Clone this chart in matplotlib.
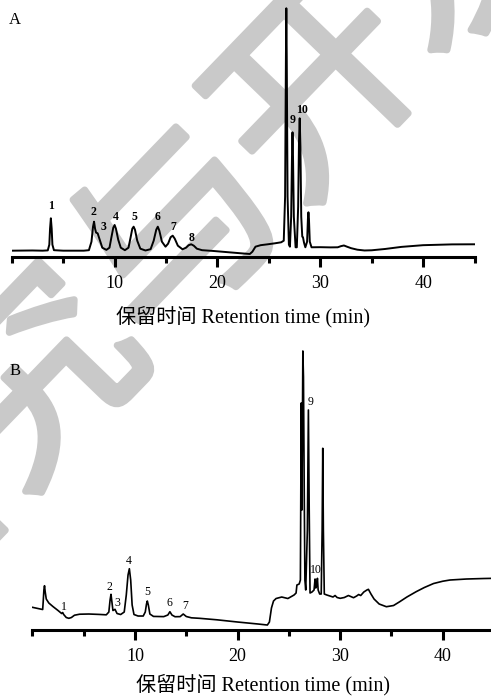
import matplotlib
matplotlib.use("Agg")
import matplotlib.pyplot as plt
import matplotlib.patheffects as pe
from matplotlib.ticker import MultipleLocator

# HPLC traces, retention time (min) vs detector signal (a.u.)
# A: mixed standard
t_std = [0, 2.0, 3.0, 3.5, 3.65, 3.72, 3.8, 3.88, 3.95, 4.1, 5.0, 7.0,
         7.5, 7.75, 7.9, 8.0, 8.1, 8.2, 8.35, 8.55, 8.8, 9.2, 9.5, 9.7, 9.87,
         10.0, 10.13, 10.35, 10.6, 11.0, 11.35, 11.55, 11.72, 11.85, 11.98,
         12.2, 12.5, 13.0, 13.5, 13.8, 14.05, 14.2, 14.35, 14.6, 14.95, 15.2,
         15.45, 15.65, 15.85, 16.15, 16.6, 16.95, 17.2, 17.45, 17.7, 18.0,
         18.5, 19.5, 21.0, 22.5, 23.15, 23.4, 23.7, 24.2, 24.9, 25.6, 26.2,
         26.45, 26.58, 26.66, 26.7, 26.74, 26.82, 26.95, 27.05, 27.17, 27.25,
         27.3, 27.35, 27.43, 27.6, 27.72, 27.85, 27.93, 28.0, 28.07, 28.15,
         28.25, 28.32, 28.42, 28.55, 28.72, 28.8, 28.85, 28.9, 28.98, 29.15,
         30.0, 31.0, 31.7, 32.0, 32.3, 32.6, 33.0, 33.6, 34.3, 35.0, 36.3,
         37.9, 40.0, 42.8, 45.0]
s_std = [6.0, 6.2, 6.0, 6.3, 12, 28, 38.4, 28, 12, 6.5, 6.0, 6.0,
         6.5, 15, 30, 35, 28, 24, 23.4, 17, 9, 6.8, 9, 20, 29,
         31.7, 28, 17, 9, 6.5, 9, 19, 28, 30, 27,
         16, 8, 6.2, 7.5, 16, 27, 30, 26, 15, 10, 13,
         19.5, 21, 18, 11, 7.4, 9, 11.5, 12.4, 11, 8,
         6.5, 5.8, 4.5, 3.2, 2.7, 5, 10, 11.5, 12.4, 13.4, 14.4,
         16, 60, 200, 248.4, 200, 60, 12, 10, 40, 100,
         124.4, 100, 40, 9.4, 9.4, 50, 115, 138.4, 110, 40,
         20, 19.4, 14, 9.4, 15, 38, 44.4, 38, 15, 9.4,
         9.5, 9.3, 9.4, 10.5, 11.2, 10, 8.5, 7, 6.2, 6.4, 7.7,
         9.8, 11.5, 12.3, 12.4]

# B: sample
t_smp = [0, 1.0, 1.05, 1.12, 1.18, 1.25, 1.35, 1.6, 2.0, 2.5, 2.85, 2.95,
         3.05, 3.3, 3.55, 3.8, 4.1, 4.6, 5.5, 6.5, 7.2, 7.45, 7.57, 7.66,
         7.75, 7.85, 8.05, 8.25, 8.6, 8.95, 9.15, 9.32, 9.45, 9.58, 9.72,
         9.9, 10.3, 10.8, 11.0, 11.12, 11.2, 11.3, 11.45, 11.8, 12.8, 13.2,
         13.4, 13.6, 13.9, 14.4, 14.7, 15.0, 15.5, 16.3, 18.0, 20.0, 22.0,
         22.9, 23.1, 23.3, 23.5, 23.75, 24.3, 24.9, 25.5, 25.7, 25.78, 26.0,
         26.12, 26.2, 26.27, 26.36, 26.42, 26.5, 26.56, 26.64, 26.8, 26.9,
         26.98, 27.06, 27.25, 27.45, 27.55, 27.62, 27.7, 27.78, 27.85, 28.0,
         28.15, 28.24, 28.3, 28.36, 28.45, 28.7, 29.0, 29.3, 29.5, 29.7,
         30.0, 30.4, 30.8, 31.3, 31.6, 31.8, 32.0, 32.3, 32.6, 32.75, 33.0,
         33.3, 33.8, 34.5, 35.2, 35.8, 36.5, 37.4, 38.2, 39.1, 40.0, 40.7,
         42.3, 44.0, 45.0]
s_smp = [22.7, 20.5, 28, 40, 44.3, 38, 31, 27, 23.5, 19.5, 16.5, 17.5,
         15.5, 12.5, 11.7, 12.5, 14.8, 15.8, 16, 15.6, 15.2, 18, 30, 35.7,
         28, 19.5, 20.7, 16.5, 15.5, 18, 35, 55, 61.3, 50, 25,
         15.5, 14, 14, 18, 26, 29, 25, 16, 13.6, 13.4, 15,
         18.3, 15, 13.3, 13.4, 16, 13.5, 12.2, 11.7, 10.2, 8.0, 6.0,
         5.0, 8, 22, 29, 31.5, 33, 31.5, 35, 37, 45, 46,
         50, 227, 120, 279, 253, 130, 50, 40, 100, 220,
         120, 37, 38, 40, 51, 42, 44, 51.7, 40, 36,
         36, 100, 181.7, 100, 36, 35, 34, 33, 34.5, 32.5,
         31.7, 32.5, 34.5, 32.3, 34, 35.5, 34.5, 38, 40, 40.7, 36,
         31, 26, 23.3, 24.5, 28.3, 33, 38.3, 42.5, 46.5, 48.8, 50,
         51, 51.5, 51.7]

# peak numbers and where they sit (time, signal)
lab_std = ["1", "2", "3", "4", "5", "6", "7", "8", "9", "10"]
lab_std_t = [3.79, 7.97, 8.95, 10.12, 11.93, 14.2, 15.67, 17.45, 27.31, 28.23]
lab_std_s = [51, 45, 30, 40, 40, 40, 30, 19, 137, 147]

lab_smp = ["1", "2", "3", "4", "5", "6", "7", "9", "10"]
lab_smp_t = [3.11, 7.5, 8.31, 9.38, 11.24, 13.31, 14.9, 27.12, 27.64]
lab_smp_s = [22.7, 42.7, 26.7, 69.3, 37.7, 26.7, 24.3, 227.7, 60]

serif = ["Liberation Serif", "Noto Sans CJK SC"]
xlab = "保留时间 Retention time (min)"

fig = plt.figure(figsize=(4.91, 6.96), dpi=100)

# faint diagonal watermark behind both panels
wm_col = "#c9c9c9"
fig.text(0.375, 0.655, "研究与开发", rotation=46, fontsize=145, color=wm_col,
         family="Noto Sans CJK SC", ha="center", va="center", zorder=-1,
         path_effects=[pe.withStroke(linewidth=5, foreground=wm_col)])


def panel(rect, t, s, ymax, labels, lt, ls, lw, lab_weight, lpad):
    ax = fig.add_axes(rect)
    ax.patch.set_visible(False)
    ax.plot(t, s, color="black", lw=lw, solid_joinstyle="round")
    for txt, x, y in zip(labels, lt, ls):
        ax.text(x, y, txt, ha="center", va="center", fontsize=8.5,
                family=serif, weight=lab_weight)
    ax.set_xlim(0, 45)
    ax.set_ylim(0, ymax)
    for side in ["left", "right", "top"]:
        ax.spines[side].set_visible(False)
    ax.spines["bottom"].set_linewidth(2.2)
    ax.set_yticks([])
    ax.xaxis.set_major_locator(MultipleLocator(10))
    ax.xaxis.set_minor_locator(MultipleLocator(5))
    ax.set_xticks([10, 20, 30, 40])
    ax.tick_params(axis="x", which="major", direction="out", length=7.5,
                   width=2.2, pad=5.5, labelsize=13)
    ax.tick_params(axis="x", which="minor", direction="out", length=4.5,
                   width=2.2)
    for lb in ax.get_xticklabels():
        lb.set_family(serif)
    ax.set_xlabel(xlab, fontsize=14.5, family=serif, labelpad=lpad)
    return ax


axA = panel([0.0240, 0.6312, 0.9424, 0.3592], t_std, s_std, 250,
            lab_std, lab_std_t, lab_std_s, 1.4, "bold", 10)
axB = panel([0.0660, 0.0948, 0.9403, 0.4167], t_smp, s_smp, 290,
            lab_smp, lab_smp_t, lab_smp_s, 1.2, "normal", 6.5)

fig.text(15 / 491, 1 - 20 / 696, "A", fontsize=12, family=serif,
         ha="center", va="center")
fig.text(15 / 491, 1 - 371 / 696, "B", fontsize=12, family=serif,
         ha="center", va="center")

fig.savefig("out.png", dpi=100)
